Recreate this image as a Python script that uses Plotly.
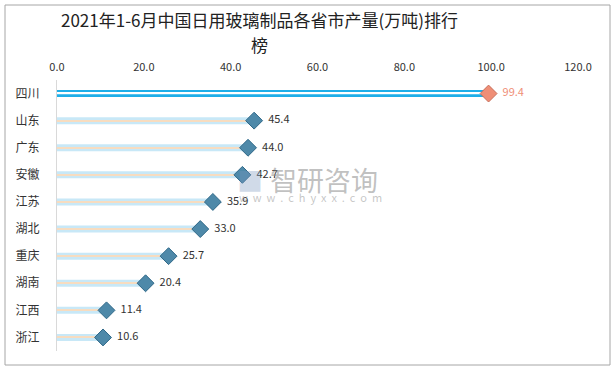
import plotly.graph_objects as go

provinces = ["四川", "山东", "广东", "安徽", "江苏", "湖北", "重庆", "湖南", "江西", "浙江"]
output = [99.4, 45.4, 44.0, 42.7, 35.9, 33.0, 25.7, 20.4, 11.4, 10.6]
x_ticks = [0, 20, 40, 60, 80, 100, 120]

bar_colors = ["#1eaee8" if i == 0 else "#c8e8f7" for i in range(len(provinces))]
stripe_colors = ["#ffffff" if i == 0 else "#f7dcc0" for i in range(len(provinces))]
marker_colors = ["#ef8e76" if i == 0 else "#4e89a9" for i in range(len(provinces))]
marker_lines = ["#c8705c" if i == 0 else "#2f6888" for i in range(len(provinces))]
label_colors = ["#ef8e76" if i == 0 else "#333333" for i in range(len(provinces))]

W, H = 616, 370
L, R, T, B = 57, 38, 80, 19
PW, PH = W - L - R, H - T - B

def px(x):
    return (x - L) / PW

def py(y):
    return (H - B - y) / PH

def note(text, x, y, size, color):
    return dict(text=text, xref="paper", yref="paper", x=px(x), y=py(y),
                xanchor="center", yanchor="middle", showarrow=False,
                font=dict(size=size, color=color))

fig = go.Figure()
fig.add_trace(go.Bar(y=provinces, x=output, orientation="h", width=0.26,
                     marker=dict(color=bar_colors, line=dict(width=0)),
                     hoverinfo="skip", showlegend=False))
fig.add_trace(go.Bar(y=provinces, x=output, orientation="h", width=0.045,
                     marker=dict(color=stripe_colors, line=dict(width=0)),
                     hoverinfo="skip", showlegend=False))
fig.add_trace(go.Scatter(y=provinces, x=output, mode="markers+text",
                         marker=dict(symbol="diamond", size=13, color=marker_colors,
                                     line=dict(color=marker_lines, width=1)),
                         text=[f"  {v:.1f}" for v in output], textposition="middle right",
                         textfont=dict(size=11, color=label_colors, family="Noto Sans CJK SC"),
                         showlegend=False, cliponaxis=False))

fig.update_layout(
    width=W, height=H,
    paper_bgcolor="white", plot_bgcolor="white",
    barmode="overlay",
    margin=dict(l=L, r=R, t=T, b=B, autoexpand=False),
    font=dict(family="Noto Sans CJK SC", color="#333333"),
    xaxis=dict(range=[0, 120], side="top", tickvals=x_ticks,
               ticktext=[f"{v:.1f}" for v in x_ticks], automargin=False,
               showgrid=False, zeroline=False, showline=False,
               ticklabelstandoff=6,
               tickfont=dict(size=11, color="#333333")),
    yaxis=dict(range=[len(provinces) - 0.5, -0.5], showgrid=False, showline=True,
               automargin=False, linecolor="#d9d9d9", linewidth=1, ticks="",
               ticklabelstandoff=14,
               tickfont=dict(size=12, color="#333333")),
    shapes=[dict(type="rect", xref="paper", yref="paper",
                 x0=px(5), x1=px(610), y0=py(365), y1=py(5),
                 line=dict(color="#a6a6a6", width=1), fillcolor="rgba(0,0,0,0)")],
    annotations=[
        note("2021年1-6月中国日用玻璃制品各省市产量(万吨)排行", 259, 20, 17, "#222222"),
        note("榜", 259, 45, 17, "#222222"),
        note("智研咨询", 324, 179, 27, "rgba(140,140,140,0.55)"),
        note("w  w  w  .  c  h  y  x  x  .  c  o  m", 310, 197, 11, "rgba(150,150,150,0.55)"),
        note("■", 250, 179, 26, "rgba(120,150,190,0.35)"),
    ],
)

fig.write_html("out.html", config={"displayModeBar": False},
               post_script="document.body.style.margin='0';document.body.style.overflow='hidden';")
